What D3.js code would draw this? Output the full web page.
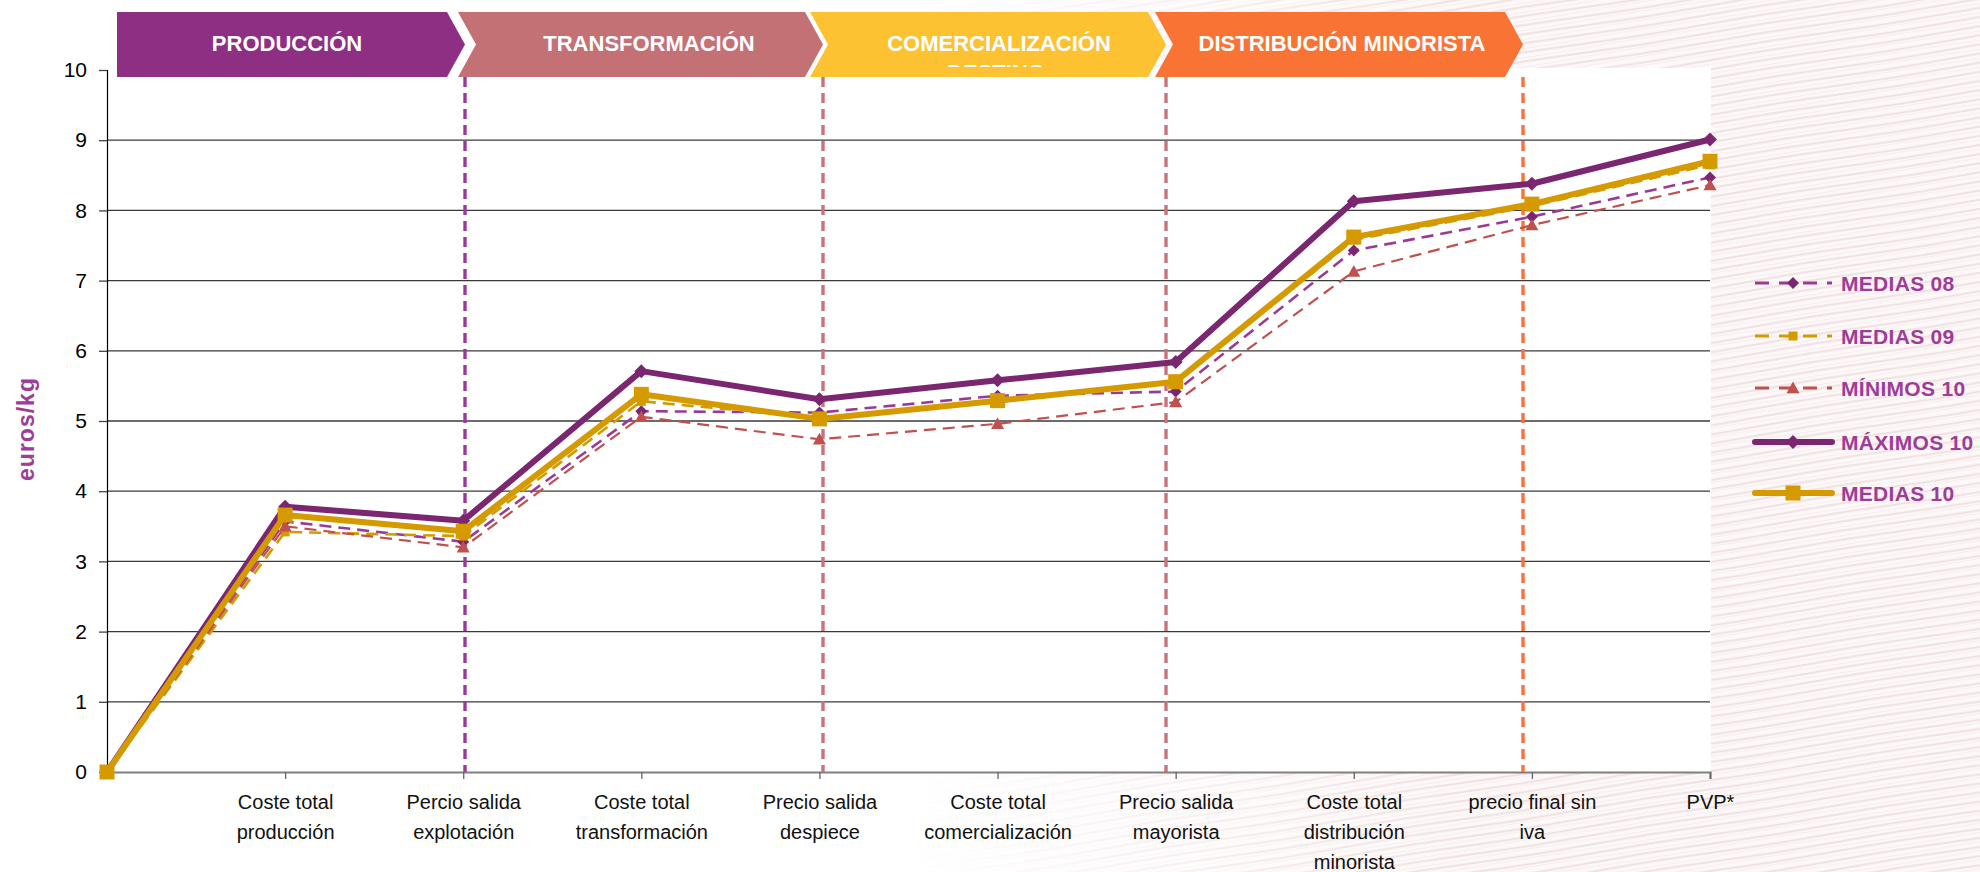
<!DOCTYPE html>
<html>
<head>
<meta charset="utf-8">
<script src="https://cdn.jsdelivr.net/npm/d3@7"></script>
<style>
  html, body { margin: 0; padding: 0; background: #ffffff; }
  svg { display: block; font-family: "Liberation Sans", Arial, sans-serif; }
</style>
</head>
<body>
<svg id="chart" width="1980" height="872"></svg>
<script>
// ---------------- DATA ----------------
const categories = [
  "",
  "Coste total\nproducción",
  "Percio salida\nexplotación",
  "Coste total\ntransformación",
  "Precio salida\ndespiece",
  "Coste total\ncomercialización",
  "Precio salida\nmayorista",
  "Coste total\ndistribución\nminorista",
  "precio final sin\niva",
  "PVP*"
];
const medias08  = [0, 3.57, 3.28, 5.14, 5.12, 5.36, 5.42, 7.43, 7.91, 8.47];
const medias09  = [0, 3.42, 3.36, 5.28, 5.05, 5.27, 5.55, 7.58, 8.06, 8.65];
const minimos10 = [0, 3.50, 3.20, 5.06, 4.74, 4.96, 5.27, 7.13, 7.79, 8.36];
const maximos10 = [0, 3.78, 3.58, 5.71, 5.31, 5.58, 5.84, 8.13, 8.38, 9.01];
const medias10  = [0, 3.66, 3.43, 5.38, 5.03, 5.29, 5.56, 7.62, 8.09, 8.70];
const seriesNames = ["MEDIAS 08", "MEDIAS 09", "MÍNIMOS 10", "MÁXIMOS 10", "MEDIAS 10"];
const yTicks = [0, 1, 2, 3, 4, 5, 6, 7, 8, 9, 10];
const stages = ["PRODUCCIÓN", "TRANSFORMACIÓN", "COMERCIALIZACIÓN", "DISTRIBUCIÓN MINORISTA"];
const yTitle = "euros/kg";

// ---------------- STYLE / LAYOUT ----------------
const styles = [
  {line: "#9B3A96", marker: "#7B2670", width: 2.6, dash: "12,7", shape: "diamond", size: 12},
  {line: "#D39B00", marker: "#D39B00", width: 2.6, dash: "12,7", shape: "square",  size: 9},
  {line: "#C0504D", marker: "#C0504D", width: 2.2, dash: "12,7", shape: "triangle",size: 13},
  {line: "#7B2670", marker: "#7B2670", width: 6,   dash: null,   shape: "diamond", size: 14},
  {line: "#D49A00", marker: "#D49A00", width: 6,   dash: null,   shape: "square",  size: 15}
];
const allSeries = [medias08, medias09, minimos10, maximos10, medias10];

const stageColors = ["#8E2F84", "#C47176", "#FCC232", "#F97434"];
const stageGeom = [
  {l: 117, r: 447, notch: false},
  {l: 458, r: 805, notch: true},
  {l: 810, r: 1148, notch: true},
  {l: 1155, r: 1505, notch: true}
];
const stageTextX = [287, 649, 999, 1342];
const vlineColors = ["#9B3A96", "#C8737C", "#C8737C", "#F97434"];

const svg = d3.select("#chart");
const W = 1980, H = 872;
const x = d3.scalePoint().domain(categories).range([107, 1710]);
const y = d3.scaleLinear().domain([0, 10]).range([772, 70]);

// ---------------- BACKGROUND TEXTURE ----------------
const defs = svg.append("defs");
const pat = defs.append("pattern")
  .attr("id", "stripes").attr("patternUnits", "userSpaceOnUse")
  .attr("width", 240).attr("height", 9)
  .attr("patternTransform", "rotate(-9)");
pat.append("rect").attr("width", 240).attr("height", 9).attr("fill", "#fdf9f9");
pat.append("path").attr("d", "M0,3 Q60,1.5 120,3 T240,3").attr("stroke", "#f1dfe1").attr("stroke-width", 2.2).attr("fill", "none");
pat.append("path").attr("d", "M0,7 Q60,8 120,7 T240,7").attr("stroke", "#f7ecee").attr("stroke-width", 1.2).attr("fill", "none");
const grad = defs.append("linearGradient").attr("id", "fade")
  .attr("gradientUnits", "userSpaceOnUse").attr("x1", 900).attr("x2", 1450).attr("y1", 0).attr("y2", 0);
grad.append("stop").attr("offset", 0).attr("stop-color", "#fff").attr("stop-opacity", 0);
grad.append("stop").attr("offset", 1).attr("stop-color", "#fff").attr("stop-opacity", 1);
const mask = defs.append("mask").attr("id", "fadeMask");
mask.append("rect").attr("width", W).attr("height", H).attr("fill", "url(#fade)");

svg.append("rect").attr("width", W).attr("height", H).attr("fill", "#fff");
svg.append("rect").attr("width", W).attr("height", H).attr("fill", "url(#stripes)").attr("mask", "url(#fadeMask)");
svg.append("rect").attr("x", 0).attr("y", 68).attr("width", 1711).attr("height", 705).attr("fill", "#fff");

// ---------------- GRIDLINES ----------------
svg.append("g").selectAll("line").data(yTicks.filter(d => d > 0 && d < 10)).join("line")
  .attr("x1", 107).attr("x2", 1710)
  .attr("y1", d => y(d)).attr("y2", d => y(d))
  .attr("stroke", "#3a3a3a").attr("stroke-width", 1.3);

// Y axis
const yAxis = d3.axisLeft(y).tickValues(yTicks).tickSize(8).tickPadding(12);
const gy = svg.append("g").attr("transform", "translate(107,0)").call(yAxis);
gy.select(".domain").attr("stroke", "#000").attr("stroke-width", 1.2);
gy.selectAll(".tick line").attr("stroke", "#444").attr("stroke-width", 1.3);
gy.selectAll(".tick text").attr("font-size", 21).attr("fill", "#000")
  .attr("font-family", "'Liberation Sans', Arial, sans-serif");

// X axis
const xAxis = d3.axisBottom(x).tickSize(7).tickFormat("");
const gx = svg.append("g").attr("transform", "translate(0,772)").call(xAxis);
gx.select(".domain").attr("stroke", "#808080").attr("stroke-width", 2.2);
gx.selectAll(".tick line").attr("stroke", "#666").attr("stroke-width", 1.3);
gx.selectAll(".tick").filter(d => d === "").remove();
gx.selectAll(".tick").append("text")
  .attr("fill", "#111").attr("font-size", 20).attr("text-anchor", "middle")
  .attr("font-family", "'Liberation Sans', Arial, sans-serif")
  .each(function(d) {
    const t = d3.select(this);
    d.split("\n").forEach((s, i) => {
      t.append("tspan").attr("x", 0).attr("y", 37 + i * 30).text(s);
    });
  });

// Y title
svg.append("text")
  .attr("transform", "translate(34,429) rotate(-90)")
  .attr("text-anchor", "middle")
  .attr("font-size", 23).attr("font-weight", "bold").attr("fill", "#9C3D98")
  .attr("letter-spacing", 1)
  .text(yTitle);

// ---------------- VERTICAL STAGE LINES ----------------
const tips = stageGeom.map(g => g.r + 18);
svg.append("g").selectAll("line").data(tips).join("line")
  .attr("x1", d => d).attr("x2", d => d)
  .attr("y1", 77).attr("y2", 772)
  .attr("stroke", (d, i) => vlineColors[i]).attr("stroke-width", 3.4)
  .attr("stroke-dasharray", "10,6");

// ---------------- BANNERS ----------------
const yTop = 12, yBot = 77, yMid = (yTop + yBot) / 2, depth = 18;
const bg = svg.append("g");
stageGeom.forEach((g, i) => {
  const pts = [[g.l, yTop], [g.r, yTop], [g.r + depth, yMid], [g.r, yBot], [g.l, yBot]];
  if (g.notch) pts.push([g.l + depth, yMid]);
  bg.append("path").attr("d", d3.line()(pts) + "Z").attr("fill", stageColors[i]);
});
defs.append("clipPath").attr("id", "b3clip").append("rect")
  .attr("x", 810).attr("y", yTop).attr("width", 340).attr("height", 67 - yTop);
bg.append("text").attr("clip-path", "url(#b3clip)")
  .attr("x", 996).attr("y", 80).attr("text-anchor", "middle")
  .attr("font-size", 22).attr("font-weight", "bold").attr("fill", "#fff")
  .text("DESTINO");
bg.selectAll("text.stage").data(stages).join("text").attr("class", "stage")
  .attr("x", (d, i) => stageTextX[i]).attr("y", 51)
  .attr("text-anchor", "middle")
  .attr("font-size", 22).attr("font-weight", "bold").attr("fill", "#fff")
  .text(d => d);

// ---------------- SERIES ----------------
function symbolPath(shape, size) {
  const s = size / 2;
  if (shape === "diamond") return `M0,${-s}L${s},0L0,${s}L${-s},0Z`;
  if (shape === "square") return `M${-s},${-s}H${s}V${s}H${-s}Z`;
  return `M0,${-s}L${s},${s * 0.8}L${-s},${s * 0.8}Z`;
}
const line = d3.line().x((d, i) => x(categories[i])).y(d => y(d));
const sg = svg.append("g");
allSeries.forEach((vals, k) => {
  const st = styles[k];
  sg.append("path").attr("d", line(vals))
    .attr("fill", "none").attr("stroke", st.line).attr("stroke-width", st.width)
    .attr("stroke-dasharray", st.dash).attr("stroke-linejoin", "round");
  sg.append("g").selectAll("path").data(vals).join("path")
    .attr("transform", (d, i) => `translate(${x(categories[i])},${y(d)})`)
    .attr("d", symbolPath(st.shape, st.size))
    .attr("fill", st.marker);
});

// ---------------- LEGEND ----------------
const legY = [283, 336, 388, 442, 493];
const lg = svg.append("g");
seriesNames.forEach((name, k) => {
  const st = styles[k];
  const yy = legY[k];
  lg.append("line").attr("x1", 1755).attr("x2", 1832).attr("y1", yy).attr("y2", yy)
    .attr("stroke", st.line).attr("stroke-width", st.dash ? 3 : 6)
    .attr("stroke-dasharray", st.dash ? "14,10" : null)
    .attr("stroke-linecap", st.dash ? "butt" : "round");
  lg.append("path").attr("transform", `translate(1793,${yy})`)
    .attr("d", symbolPath(st.shape, st.size)).attr("fill", st.marker);
  lg.append("text").attr("x", 1841).attr("y", yy).attr("dy", "0.36em")
    .attr("font-size", 21).attr("font-weight", "bold").attr("fill", "#9C3D98")
    .attr("letter-spacing", 0.3)
    .text(name);
});
</script>
</body>
</html>
